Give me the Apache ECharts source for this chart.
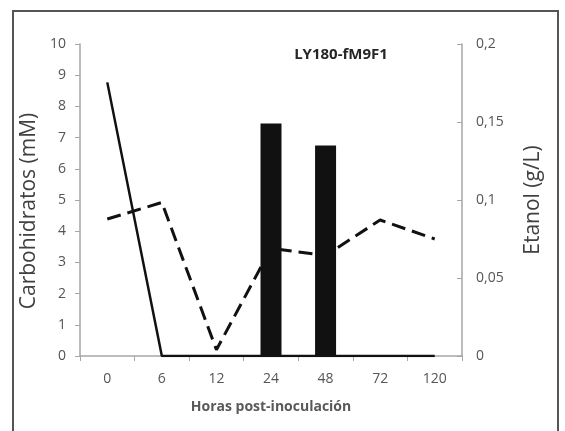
<!DOCTYPE html>
<html><head><meta charset="utf-8">
<script src="https://cdn.jsdelivr.net/npm/echarts@6/dist/echarts.min.js"></script>
<style>html,body{margin:0;padding:0;background:#fff}#c{width:565px;height:431px}</style>
</head><body><div id="c"></div>
<script>
var categories = ['0','6','12','24','48','72','120'];
var carbSolid = [8.77, 0, 0, 0, 0, 0, 0];
var carbDashed = [4.39, 4.92, 0.2, 3.45, 3.22, 4.36, 3.75];
var etanolBars = [null, null, null, 0.149, 0.135, null, null];
var leftTicks = [0,1,2,3,4,5,6,7,8,9,10];
var rightTicks = ['0','0,05','0,1','0,15','0,2'];

var font = 'Open Sans';
var chart = echarts.init(document.getElementById('c'), null, {renderer:'canvas'});
chart.setOption({
  animation: false,
  backgroundColor: '#fff',
  title: {
    text: 'LY180-fM9F1', left: 336, top: 42, textAlign: 'center',
    textStyle: {fontFamily: font, fontWeight: 'bold', fontSize: 15, color: '#262626'}
  },
  graphic: [{
    type: 'rect', shape: {x: 13, y: 11, width: 545, height: 440},
    style: {fill: 'none', stroke: '#555', lineWidth: 2}, z: 0
  }],
  grid: {left: 80, right: 103, top: 44, bottom: 75, containLabel: false},
  xAxis: {
    type: 'category', data: categories, boundaryGap: true,
    name: 'Horas post-inoculación', nameLocation: 'middle', nameGap: 44,
    nameTextStyle: {fontFamily: font, fontWeight: 'bold', fontSize: 14, color: '#595959'},
    axisLine: {lineStyle: {color: '#a6a6a6', width: 1.5}},
    axisTick: {show: true, inside: false, length: 5, alignWithLabel: false, lineStyle: {color: '#a6a6a6'}},
    axisLabel: {fontFamily: font, fontSize: 14, color: '#555', margin: 16}
  },
  yAxis: [{
    type: 'value', min: 0, max: 10, interval: 1, position: 'left',
    name: 'Carbohidratos (mM)', nameLocation: 'middle', nameGap: 40, nameRotate: 90,
    nameTextStyle: {fontFamily: font, fontSize: 21, color: '#404040', padding: [0, 22, 0, 0]},
    axisLine: {show: true, lineStyle: {color: '#a6a6a6', width: 1.5}},
    axisTick: {show: true, inside: false, length: 5, lineStyle: {color: '#a6a6a6'}},
    axisLabel: {fontFamily: font, fontSize: 14, color: '#555', margin: 14,
      formatter: function(v){ return String(leftTicks[Math.round(v)]); }},
    splitLine: {show: false}
  }, {
    type: 'value', min: 0, max: 0.2, interval: 0.05, position: 'right',
    name: 'Etanol (g/L)', nameLocation: 'middle', nameGap: 61, nameRotate: 90,
    nameTextStyle: {fontFamily: font, fontSize: 21, color: '#404040'},
    axisLine: {show: true, lineStyle: {color: '#a6a6a6', width: 1.5}},
    axisTick: {show: true, inside: true, length: 5, lineStyle: {color: '#a6a6a6'}},
    axisLabel: {fontFamily: font, fontSize: 14, color: '#555', margin: 14,
      formatter: function(v){ return rightTicks[Math.round(v/0.05)]; }},
    splitLine: {show: false}
  }],
  series: [{
    type: 'line', data: carbSolid, yAxisIndex: 0, symbol: 'none', z: 2,
    lineStyle: {color: '#111', width: 2.5, type: 'solid'}
  }, {
    type: 'line', data: carbDashed, yAxisIndex: 0, symbol: 'none', z: 2,
    lineStyle: {color: '#111', width: 3, type: [14, 7]}
  }, {
    type: 'bar', data: etanolBars, yAxisIndex: 1, barWidth: 21, z: 3,
    itemStyle: {color: '#111'}
  }]
});
</script></body></html>
